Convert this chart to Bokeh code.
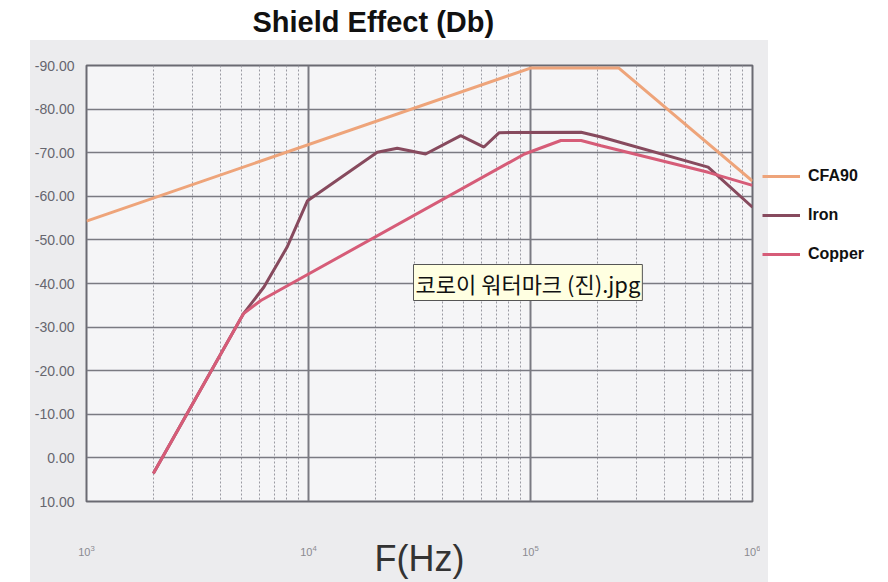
from bokeh.plotting import figure
from bokeh.layouts import row, column
from bokeh.models import (Range1d, FixedTicker, NumeralTickFormatter, Legend,
                          LegendItem, Label)
from bokeh.embed import file_html
from bokeh.resources import INLINE

# ---------------- data ----------------
title_text = "Shield Effect (Db)"
x_label = "F(Hz)"
note_text = "코로이 워터마크 (진).jpg"

x_major_ticks = [1e3, 1e4, 1e5, 1e6]
x_minor_ticks = [m * 10 ** e for e in (3, 4, 5) for m in range(2, 10)]
y_ticks = [10, 0, -10, -20, -30, -40, -50, -60, -70, -80, -90]

cfa_freq = [1000, 100000, 250000, 1000000]
cfa_db = [-54.3, -89.4, -89.4, -63.5]

iron_freq = [2000, 5100, 6300, 8000, 9900, 20400, 25100, 33700, 48500,
             61700, 72300, 169000, 208000, 631000, 1000000]
iron_db = [3.6, -33.1, -39.2, -48.3, -59.0, -70.1, -71.0, -69.7, -73.9,
           -71.3, -74.6, -74.7, -73.6, -66.7, -57.5]

copper_freq = [2000, 5100, 6100, 94000, 137000, 169000, 208000, 631000, 1000000]
copper_db = [3.6, -33.1, -36.1, -69.7, -72.8, -72.8, -71.6, -65.5, -62.5]

series_names = ["CFA90", "Iron", "Copper"]
series_colors = ["#eea47a", "#874a5e", "#d65c78"]

GRAY = "#ececee"

# ---------------- title strip ----------------
t = figure(width=886, height=46, output_backend="svg", toolbar_location=None,
           x_range=Range1d(0, 1), y_range=Range1d(0, 1),
           x_axis_location=None, y_axis_location=None, min_border=0)
t.border_fill_color = None
t.background_fill_color = None
t.outline_line_color = None
t.grid.visible = False
t.styles = {"background": f"linear-gradient({GRAY},{GRAY}) 30px 40px / 738px 6px no-repeat, #ffffff"}
t.title.text = title_text
t.title.align = "left"
t.title.offset = 252
t.title.text_font = "Liberation Sans"
t.title.text_font_style = "bold"
t.title.text_font_size = "29px"
t.title.text_color = "#111111"
t.title.standoff = 6

# ---------------- main figure ----------------
p = figure(width=760, height=536, x_axis_type="log",
           x_range=Range1d(1e3, 1e6), y_range=Range1d(10, -90),
           output_backend="svg", toolbar_location=None,
           min_border_left=86, min_border_right=8,
           min_border_top=19, min_border_bottom=81)

p.border_fill_color = None
p.styles = {"background": f"linear-gradient({GRAY},{GRAY}) 30px 0px / 730px 536px no-repeat, #ffffff"}
p.background_fill_color = "#f5f5f7"
p.outline_line_color = "#6a6a72"
p.outline_line_width = 2

# axes
p.xaxis.ticker = FixedTicker(ticks=x_major_ticks, minor_ticks=x_minor_ticks)
p.yaxis.ticker = FixedTicker(ticks=y_ticks)
p.yaxis.formatter = NumeralTickFormatter(format="0.00")
for ax in (p.xaxis, p.yaxis):
    ax.axis_line_color = None
    ax.major_tick_line_color = None
    ax.minor_tick_line_color = None
    ax.major_label_text_font = "Liberation Sans"
    ax.major_label_text_color = "#66666e"
p.yaxis.major_label_text_font_size = "14px"
p.yaxis.major_label_standoff = 6
p.xaxis.major_label_text_font_size = "11px"
p.xaxis.major_label_text_color = "#8a8a90"
p.xaxis.major_label_standoff = 37
p.xaxis.axis_label = x_label
p.xaxis.axis_label_text_font = "Liberation Sans"
p.xaxis.axis_label_text_font_style = "normal"
p.xaxis.axis_label_text_font_size = "36px"
p.xaxis.axis_label_text_color = "#333333"
p.xaxis.axis_label_standoff = -21

# grids
p.ygrid.grid_line_color = "#7a7a82"
p.ygrid.grid_line_width = 1.5
p.xgrid.grid_line_color = "#7a7a82"
p.xgrid.grid_line_width = 2
p.xgrid.minor_grid_line_color = "#9a9aa2"
p.xgrid.minor_grid_line_width = 1
p.xgrid.minor_grid_line_dash = "2 2"

# series
p.line(cfa_freq, cfa_db, line_color=series_colors[0], line_width=3)
p.line(iron_freq, iron_db, line_color=series_colors[1], line_width=3)
p.line(copper_freq, copper_db, line_color=series_colors[2], line_width=3)

note = Label(x=327, y=201, x_units="screen", y_units="screen", text=note_text,
             text_font="Noto Sans CJK KR", text_font_size="22px",
             text_color="#111111", background_fill_color="#ffffe1",
             border_line_color="#555555", padding=2)
p.add_layout(note)

# ---------------- legend panel ----------------
q = figure(width=126, height=536, x_range=Range1d(0, 1), y_range=Range1d(0, 1),
           output_backend="svg", toolbar_location=None,
           x_axis_location=None, y_axis_location=None, min_border=0)
q.border_fill_color = None
q.background_fill_color = None
q.outline_line_color = None
q.grid.visible = False
q.styles = {"background": f"linear-gradient({GRAY},{GRAY}) 0px 0px / 8px 536px no-repeat, #ffffff"}

l_cfa = q.line(cfa_freq, cfa_db, line_color=series_colors[0], line_width=3)
l_iron = q.line(iron_freq, iron_db, line_color=series_colors[1], line_width=3)
l_cu = q.line(copper_freq, copper_db, line_color=series_colors[2], line_width=3)

legend = Legend(items=[LegendItem(label=series_names[0], renderers=[l_cfa]),
                       LegendItem(label=series_names[1], renderers=[l_iron]),
                       LegendItem(label=series_names[2], renderers=[l_cu])],
                location=(2, 237))
legend.label_text_font = "Liberation Sans"
legend.label_text_font_style = "bold"
legend.label_text_font_size = "16px"
legend.label_text_color = "#111111"
legend.glyph_width = 38
legend.glyph_height = 20
legend.label_height = 20
legend.spacing = 19
legend.padding = 0
legend.margin = 0
legend.label_standoff = 8
legend.border_line_color = None
legend.background_fill_alpha = 0
q.add_layout(legend)

layout = column(t, row(p, q, spacing=0), spacing=0)

open("out.html", "w").write(file_html(layout, INLINE))
